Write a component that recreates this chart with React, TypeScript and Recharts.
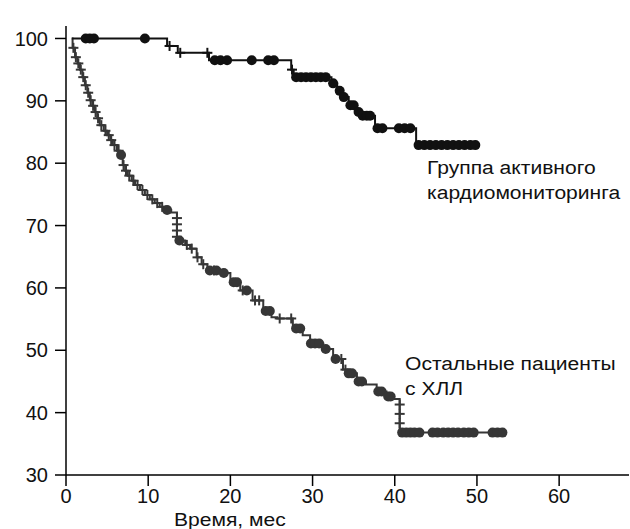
import React from "react"
import { ComposedChart, Line, Scatter, XAxis, YAxis } from "recharts"

// Kaplan-Meier steps: time (months) -> survival (%)
const activeTimes = [0.7, 12.3, 13.6, 17.4, 27.4, 27.7, 32.3, 33.0, 33.6, 34.4, 35.3, 35.9, 37.6, 42.6, 50.0]
const activeSurv = [100, 98.8, 97.7, 96.5, 95.0, 93.8, 92.8, 91.6, 90.6, 89.3, 88.2, 87.6, 85.6, 82.9, 82.9]

const restTimes = [
  0.7, 0.8, 1.1, 1.4, 1.7, 2.0, 2.3, 2.6, 2.9, 3.2, 3.5, 3.8, 4.1, 4.6, 5.0, 5.4, 5.7, 6.2, 6.6, 6.9, 7.2, 7.5,
  8.0, 8.4, 9.0, 9.6, 10.2, 10.8, 11.4, 12.0, 12.8, 13.5, 14.5, 15.1, 15.9, 16.5, 17.2, 18.7, 20.0, 21.2, 22.7,
  24.0, 25.0, 25.7, 27.6, 28.8, 29.7, 31.3, 32.5, 33.7, 34.2, 35.4, 36.5, 37.8, 39.0, 39.8, 40.6, 53.2,
]
const restSurv = [
  100, 98.5, 97, 96, 95, 93.8, 92.5, 91.3, 90.1, 89.2, 88.2, 87.2, 86.1, 85.2, 84.5, 83.7, 82.9, 82, 81.3, 79.7, 78.8, 78,
  77.2, 76.5, 75.7, 74.9, 74.2, 73.6, 73, 72.5, 72.1, 67.6, 66.9, 66.3, 64.9, 63.8, 62.8, 62.4, 60.9, 59.6, 58,
  56.3, 55.3, 55.1, 53.5, 52.4, 51.1, 50.2, 48.6, 46.9, 46.3, 45, 44.5, 43.4, 42.6, 42.2, 36.8, 36.8,
]

// censored observations (times), drawn on the curve
const activeDots = [
  2.4, 2.9, 3.4, 9.6, 18.1, 18.8, 19.6, 22.6, 24.6, 25.3, 28.0, 28.6, 29.2, 29.8, 30.4, 31.0, 31.6, 32.5, 33.3,
  33.8, 34.6, 35.0, 35.6, 36.1, 36.6, 37.0, 37.9, 38.5, 40.5, 41.2, 41.9, 42.9, 43.6, 44.3, 45.0, 45.7, 46.4,
  47.1, 47.8, 48.5, 49.2, 49.8,
]
const activePlus = [12.6, 13.9, 17.2, 27.5]

const restDots = [
  6.7, 12.3, 13.8, 17.5, 18.3, 19.2, 20.4, 20.8, 22.0, 24.3, 24.8, 28.0, 28.5, 29.8, 30.3, 30.8, 31.6, 32.8,
  34.4, 34.8, 35.6, 36.0, 38.0, 38.4, 39.2, 39.5, 40.9, 41.4, 41.9, 42.4, 43.0, 44.6, 45.2, 45.9, 46.5, 47.1,
  47.7, 48.4, 49.0, 49.6, 51.9, 52.5, 53.1,
]
const restPlus = [
  0.9, 1.2, 1.5, 1.8, 2.1, 2.4, 2.7, 3.0, 3.3, 3.6, 3.9, 4.3, 4.8, 5.2, 5.5, 5.9, 6.4, 7.0, 7.3, 7.7, 8.2, 8.7,
  9.3, 9.9, 10.5, 11.1, 11.7, 14.7, 15.3, 16.0, 16.7, 18.0, 21.5, 23.0, 23.5, 26.0, 27.4, 33.5, 34.0,
]
// plus marks sitting on the vertical drops
const restStackT = [13.5, 13.5, 13.5, 13.5, 40.6, 40.6, 40.6]
const restStackS = [71.2, 70.2, 69.2, 68.2, 41.3, 39.8, 38.3]

const yTicks = [30, 40, 50, 60, 70, 80, 90, 100]
const xTicks = [0, 10, 20, 30, 40, 50, 60]

const stepAt = (times: number[], surv: number[], t: number) => {
  let s = surv[0]
  for (let i = 0; i < times.length; i++) if (times[i] <= t) s = surv[i]
  return s
}

const toRows = (times: number[], surv: number[]) => times.map((t, i) => ({ t, s: surv[i] }))
const onCurve = (marks: number[], times: number[], surv: number[]) =>
  marks.map((t) => ({ t, s: stepAt(times, surv, t) }))

const Dot = (color: string) => (p: any) => <circle cx={p.cx} cy={p.cy} r={5} fill={color} />
const Plus = (color: string) => (p: any) => (
  <g stroke={color} strokeWidth={2}>
    <line x1={p.cx - 5} x2={p.cx + 5} y1={p.cy} y2={p.cy} />
    <line x1={p.cx} x2={p.cx} y1={p.cy - 5} y2={p.cy + 5} />
  </g>
)

const FONT = "'Liberation Sans', Arial, sans-serif"
const BLACK = "#111"
const GREY = "#363636"

export default function App() {
  const activeRows = toRows(activeTimes, activeSurv)
  const restRows = toRows(restTimes, restSurv)
  const stackRows = restStackT.map((t, i) => ({ t, s: restStackS[i] }))

  const label = {
    position: "absolute" as const,
    fontFamily: FONT,
    fontSize: 18,
    color: "#111",
    lineHeight: "25px",
    whiteSpace: "nowrap" as const,
    transform: "scaleX(1.17)",
    transformOrigin: "left top",
  }

  return (
    <div style={{ position: "absolute", left: 0, top: 0, width: 630, height: 529, background: "#fff", overflow: "hidden" }}>
      <ComposedChart width={630} height={529} margin={{ top: 26, right: 1, bottom: 24, left: 0 }}>
        <XAxis
          type="number"
          dataKey="t"
          domain={[0, 68.5]}
          ticks={xTicks}
          allowDataOverflow
          height={30}
          tickSize={11}
          tickMargin={3}
          axisLine={{ stroke: "#000", strokeWidth: 1.5 }}
          tickLine={{ stroke: "#000", strokeWidth: 1.5 }}
          tick={{ fill: "#111", fontSize: 20, fontFamily: FONT }}
        />
        <YAxis
          type="number"
          dataKey="s"
          domain={[30, 102]}
          ticks={yTicks}
          allowDataOverflow
          width={66}
          tickSize={11}
          tickMargin={7}
          axisLine={{ stroke: "#000", strokeWidth: 1.5 }}
          tickLine={{ stroke: "#000", strokeWidth: 1.5 }}
          tick={{ fill: "#111", fontSize: 20, fontFamily: FONT }}
        />
        <Line data={restRows} dataKey="s" type="stepAfter" stroke={GREY} strokeWidth={2} dot={false} isAnimationActive={false} />
        <Line data={activeRows} dataKey="s" type="stepAfter" stroke={BLACK} strokeWidth={2} dot={false} isAnimationActive={false} />
        <Scatter data={onCurve(restPlus, restTimes, restSurv)} dataKey="s" shape={Plus(GREY)} isAnimationActive={false} />
        <Scatter data={stackRows} dataKey="s" shape={Plus(GREY)} isAnimationActive={false} />
        <Scatter data={onCurve(restDots, restTimes, restSurv)} dataKey="s" shape={Dot(GREY)} isAnimationActive={false} />
        <Scatter data={onCurve(activePlus, activeTimes, activeSurv)} dataKey="s" shape={Plus(BLACK)} isAnimationActive={false} />
        <Scatter data={onCurve(activeDots, activeTimes, activeSurv)} dataKey="s" shape={Dot(BLACK)} isAnimationActive={false} />
      </ComposedChart>
      <div style={{ ...label, left: 427, top: 156 }}>
        Группа активного
        <br />
        кардиомониторинга
      </div>
      <div style={{ ...label, left: 405, top: 352 }}>
        Остальные пациенты
        <br />с ХЛЛ
      </div>
      <div style={{ ...label, left: 174, top: 508 }}>Время, мес</div>
    </div>
  )
}
